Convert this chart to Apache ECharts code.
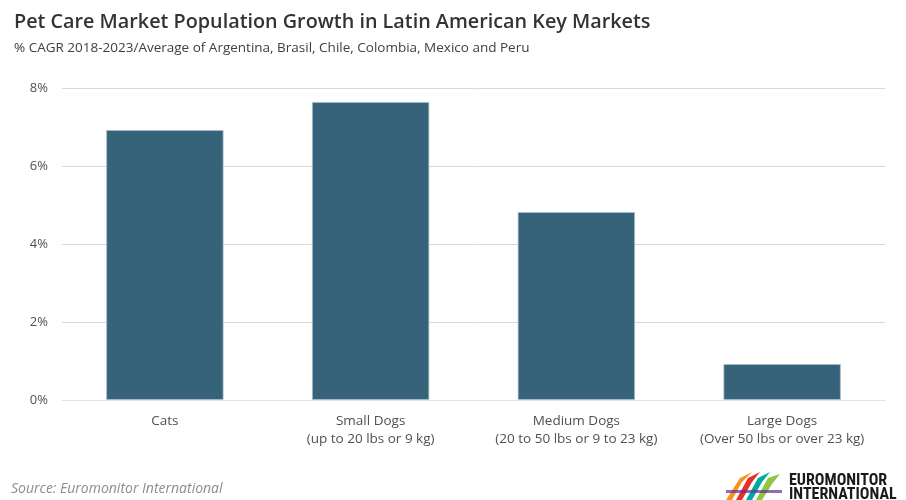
<!DOCTYPE html>
<html><head><meta charset="utf-8">
<script src="https://cdn.jsdelivr.net/npm/echarts@6/dist/echarts.min.js"></script>
<style>html,body{margin:0;padding:0;background:#fff}#c{width:906px;height:500px}</style>
</head><body><div id="c"></div>
<script>
const categories = ['Cats', 'Small Dogs\n(up to 20 lbs or 9 kg)', 'Medium Dogs\n(20 to 50 lbs or 9 to 23 kg)', 'Large Dogs\n(Over 50 lbs or over 23 kg)'];
const cagrValues = [6.92, 7.64, 4.82, 0.92];
const yTicks = [0, 2, 4, 6, 8];

const chart = echarts.init(document.getElementById('c'), null, {renderer: 'canvas'});
chart.setOption({
  backgroundColor: '#fff',
  animation: false,
  title: [
    {text: 'Pet Care Market Population Growth in Latin American Key Markets', left: 9, top: 7,
     textStyle: {fontFamily: 'Open Sans', fontSize: 19.8, fontWeight: 600, color: '#333'}},
    {text: '% CAGR 2018-2023/Average of Argentina, Brasil, Chile, Colombia, Mexico and Peru', left: 9, top: 36,
     textStyle: {fontFamily: 'Open Sans', fontSize: 13.5, fontWeight: 'normal', color: '#404040'}}
  ],
  grid: {left: 62, right: 21, top: 88, bottom: 100, containLabel: false},
  xAxis: {
    type: 'category', data: categories,
    axisLine: {show: true, lineStyle: {color: '#e3e3e3', width: 1}},
    axisTick: {show: false},
    axisLabel: {interval: 0, hideOverlap: false, color: '#505050', fontFamily: 'Open Sans', fontSize: 13.5, lineHeight: 18, margin: 12}
  },
  yAxis: {
    type: 'value', min: yTicks[0], max: yTicks[yTicks.length - 1], interval: 2,
    axisLine: {show: false}, axisTick: {show: false},
    splitLine: {lineStyle: {color: '#d9d9d9', width: 1}},
    axisLabel: {formatter: v => v + '%', color: '#505050', fontFamily: 'Open Sans', fontSize: 13, margin: 14}
  },
  series: [{
    type: 'bar', data: cagrValues, barWidth: '57%',
    itemStyle: {color: '#36627A', borderColor: '#a9bccb', borderWidth: 0.8}
  }],
  graphic: [
    {type: 'text', left: 11, top: 482, style: {text: 'Source: Euromonitor International', fill: '#8c8c8c',
      font: 'italic 14px "Open Sans"'}},
    {type: 'group', left: 726, top: 472, children: [
      {type: 'polygon', shape: {points: [[0,28],[14,6],[26,0],[16,10],[6,28]]}, style: {fill: '#f7941d'}},
      {type: 'polygon', shape: {points: [[10,28],[22,6],[34,0],[26,10],[16,28]]}, style: {fill: '#e4312b'}},
      {type: 'polygon', shape: {points: [[20,28],[32,6],[44,0],[36,10],[26,28]]}, style: {fill: '#00a99d'}},
      {type: 'polygon', shape: {points: [[30,28],[42,6],[54,2],[46,12],[36,28]]}, style: {fill: '#8dc63f'}},
      {type: 'rect', shape: {x: 0, y: 18, width: 56, height: 3}, style: {fill: '#662d91', opacity: 0.7}},
      {type: 'text', left: 63, top: 1, style: {text: 'EUROMONITOR\nINTERNATIONAL', fill: '#1a1a1a',
        font: 'bold 16px "Liberation Sans Narrow", "Roboto Condensed", "Roboto"', lineHeight: 14}}
    ]}
  ]
});
</script></body></html>
